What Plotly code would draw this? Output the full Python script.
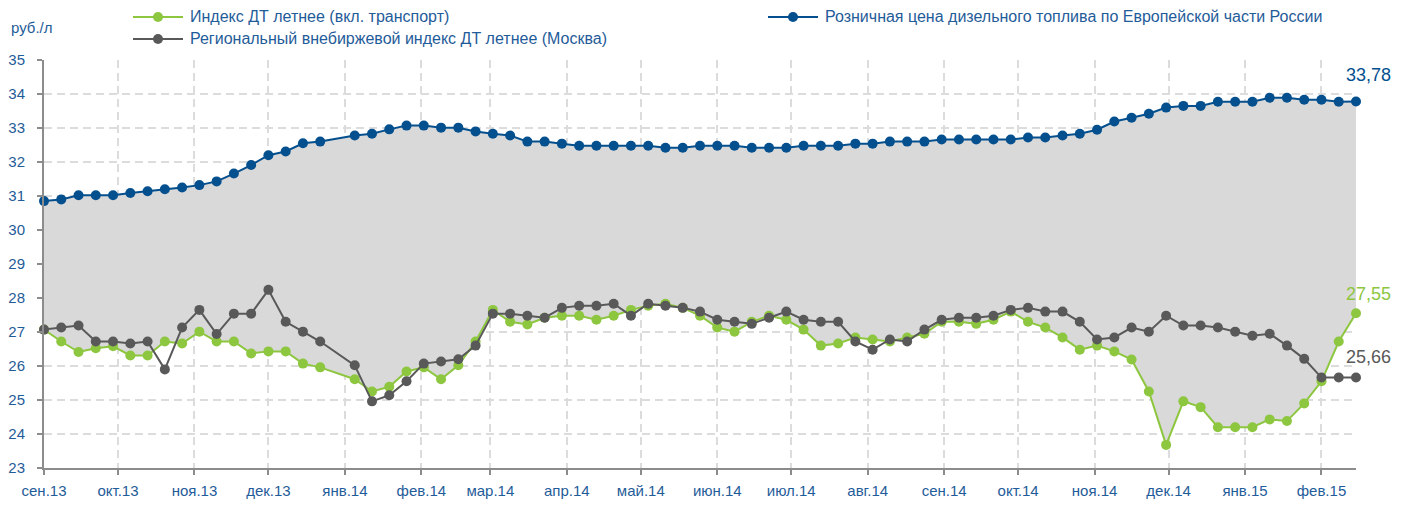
import plotly.graph_objects as go

dates = [
    "2013-09-01", "2013-09-08", "2013-09-15", "2013-09-22", "2013-09-29",
    "2013-10-06", "2013-10-13", "2013-10-20", "2013-10-27",
    "2013-11-03", "2013-11-10", "2013-11-17", "2013-11-24",
    "2013-12-01", "2013-12-08", "2013-12-15", "2013-12-22",
    "2014-01-05", "2014-01-12", "2014-01-19", "2014-01-26",
    "2014-02-02", "2014-02-09", "2014-02-16", "2014-02-23",
    "2014-03-02", "2014-03-09", "2014-03-16", "2014-03-23", "2014-03-30",
    "2014-04-06", "2014-04-13", "2014-04-20", "2014-04-27",
    "2014-05-04", "2014-05-11", "2014-05-18", "2014-05-25",
    "2014-06-01", "2014-06-08", "2014-06-15", "2014-06-22", "2014-06-29",
    "2014-07-06", "2014-07-13", "2014-07-20", "2014-07-27",
    "2014-08-03", "2014-08-10", "2014-08-17", "2014-08-24", "2014-08-31",
    "2014-09-07", "2014-09-14", "2014-09-21", "2014-09-28",
    "2014-10-05", "2014-10-12", "2014-10-19", "2014-10-26",
    "2014-11-02", "2014-11-09", "2014-11-16", "2014-11-23", "2014-11-30",
    "2014-12-07", "2014-12-14", "2014-12-21", "2014-12-28",
    "2015-01-04", "2015-01-11", "2015-01-18", "2015-01-25",
    "2015-02-01", "2015-02-08", "2015-02-15",
]

retail_price = [
    30.85, 30.90, 31.02, 31.02, 31.02, 31.09, 31.14, 31.20, 31.25, 31.32, 31.43, 31.66,
    31.91, 32.20, 32.31, 32.55, 32.60, 32.78, 32.83, 32.96, 33.07, 33.07, 33.01, 33.01,
    32.90, 32.83, 32.78, 32.60, 32.60, 32.54, 32.48, 32.48, 32.48, 32.48, 32.48, 32.42,
    32.42, 32.48, 32.48, 32.48, 32.42, 32.42, 32.42, 32.48, 32.48, 32.48, 32.54, 32.54,
    32.60, 32.60, 32.60,
    32.66, 32.66, 32.66, 32.66, 32.66, 32.72, 32.72, 32.78, 32.83, 32.95, 33.19, 33.30,
    33.42, 33.60, 33.65, 33.65, 33.77, 33.77, 33.77, 33.89, 33.89, 33.83, 33.83, 33.77, 33.78,
]

index_transport = [
    27.07, 26.72, 26.41, 26.52, 26.58, 26.31, 26.31, 26.72, 26.66, 27.01, 26.72, 26.72,
    26.37, 26.43, 26.43, 26.07, 25.96, 25.61, 25.25, 25.39, 25.84, 25.96, 25.61, 26.02,
    26.72, 27.65, 27.30, 27.22, 27.42, 27.48, 27.48, 27.36, 27.48, 27.65, 27.77, 27.83,
    27.71, 27.48, 27.13, 27.01, 27.30, 27.48, 27.36, 27.07, 26.60, 26.66, 26.84, 26.78,
    26.72, 26.84, 26.95,
    27.30, 27.30, 27.24, 27.36, 27.60, 27.30, 27.13, 26.84, 26.48, 26.60, 26.43, 26.19,
    25.25, 23.68, 24.96, 24.79, 24.20, 24.20, 24.20, 24.43, 24.38, 24.90, 25.55, 26.72, 27.55,
]

index_moscow = [
    27.07, 27.13, 27.19, 26.72, 26.72, 26.66, 26.72, 25.90, 27.13, 27.65, 26.94, 27.54,
    27.54, 28.24, 27.30, 27.01, 26.72, 26.02, 24.96, 25.14, 25.55, 26.07, 26.13, 26.20,
    26.60, 27.54, 27.54, 27.48, 27.42, 27.71, 27.77, 27.77, 27.83, 27.48, 27.83, 27.77,
    27.71, 27.60, 27.36, 27.30, 27.24, 27.42, 27.60, 27.36, 27.30, 27.30, 26.72, 26.48,
    26.78, 26.72, 27.07,
    27.36, 27.42, 27.42, 27.48, 27.65, 27.71, 27.60, 27.60, 27.30, 26.78, 26.84, 27.13,
    27.01, 27.48, 27.19, 27.19, 27.13, 27.01, 26.89, 26.95, 26.60, 26.21, 25.66, 25.66, 25.66,
]

month_ticks = [
    "2013-09-01", "2013-10-01", "2013-11-01", "2013-12-01", "2014-01-01", "2014-02-01",
    "2014-03-01", "2014-04-01", "2014-05-01", "2014-06-01", "2014-07-01", "2014-08-01",
    "2014-09-01", "2014-10-01", "2014-11-01", "2014-12-01", "2015-01-01", "2015-02-01",
]
month_labels = [
    "сен.13", "окт.13", "ноя.13", "дек.13", "янв.14", "фев.14",
    "мар.14", "апр.14", "май.14", "июн.14", "июл.14", "авг.14",
    "сен.14", "окт.14", "ноя.14", "дек.14", "янв.15", "фев.15",
]

name_transport = "Индекс ДТ летнее (вкл. транспорт)"
name_moscow = "Региональный внебиржевой индекс ДТ летнее (Москва)"
name_retail = "Розничная цена дизельного топлива по Европейской части России"

BLUE = "#044F8E"
GREEN = "#8DC63F"
GREY = "#595959"
TEXT = "#1F5C99"
FONT = "Liberation Sans, Arial, sans-serif"

# page offset of the figure (default body margin) and target plot box in page pixels
OFF = 8
W, H = 1407, 505
PLOT_L, PLOT_R, PLOT_T, PLOT_B = 44, 1356, 60, 468
ML, MT = PLOT_L - OFF, PLOT_T - OFF
MR, MB = W - (PLOT_R - OFF), H - (PLOT_B - OFF)
PW, PH = PLOT_R - PLOT_L, PLOT_B - PLOT_T


def px_x(p):
    return (p - PLOT_L) / PW


def px_y(p):
    return (PLOT_B - p) / PH


fig = go.Figure()

# lower edge of the shaded band (follows the transport index)
fig.add_trace(go.Scatter(x=dates, y=index_transport, mode="lines",
                         line=dict(width=0, color="rgba(0,0,0,0)"),
                         showlegend=False, hoverinfo="skip"))
fig.add_trace(go.Scatter(x=dates, y=retail_price, mode="lines+markers", name=name_retail,
                         fill="tonexty", fillcolor="#D9D9D9",
                         line=dict(color=BLUE, width=2), marker=dict(size=10, color=BLUE),
                         showlegend=False, cliponaxis=False))
fig.add_trace(go.Scatter(x=dates, y=index_transport, mode="lines+markers", name=name_transport,
                         line=dict(color=GREEN, width=2), marker=dict(size=10, color=GREEN),
                         showlegend=False, cliponaxis=False))
fig.add_trace(go.Scatter(x=dates, y=index_moscow, mode="lines+markers", name=name_moscow,
                         line=dict(color=GREY, width=2), marker=dict(size=10, color=GREY),
                         showlegend=False, cliponaxis=False))

# end-value labels
last = dates[-1]
for series, col, ys in [(retail_price, BLUE, 26), (index_transport, GREEN, 19), (index_moscow, GREY, 21)]:
    fig.add_annotation(x=last, y=series[-1], text=f"{series[-1]:.2f}".replace(".", ","),
                       showarrow=False, xshift=12, yshift=ys,
                       font=dict(size=18, color=col, family=FONT))

# legend (drawn manually to reproduce the two-column layout)
legend_items = [
    (name_transport, GREEN, 133, 17),
    (name_moscow, GREY, 133, 39),
    (name_retail, BLUE, 768, 17),
]
shapes = []
for name, col, lx, ly in legend_items:
    shapes.append(dict(type="line", xref="paper", yref="paper",
                       x0=px_x(lx), x1=px_x(lx + 50), y0=px_y(ly), y1=px_y(ly),
                       line=dict(color=col, width=2)))
    shapes.append(dict(type="circle", xref="paper", yref="paper",
                       xsizemode="pixel", ysizemode="pixel",
                       xanchor=px_x(lx + 25), yanchor=px_y(ly),
                       x0=-5, x1=5, y0=-5, y1=5,
                       fillcolor=col, line=dict(color=col, width=0)))
    fig.add_annotation(xref="paper", yref="paper", x=px_x(lx + 55), y=px_y(ly),
                       xanchor="left", yanchor="middle", text=name, showarrow=False,
                       font=dict(size=16, color=TEXT, family=FONT))

fig.add_annotation(xref="paper", yref="paper", x=px_x(9), y=px_y(27), xanchor="left", yanchor="middle",
                   text="руб./л", showarrow=False, font=dict(size=15, color=TEXT, family=FONT))

fig.update_layout(
    width=W, height=H,
    margin=dict(l=ML, r=MR, t=MT, b=MB, autoexpand=False),
    paper_bgcolor="white", plot_bgcolor="white",
    font=dict(family=FONT, size=15, color=TEXT),
    showlegend=False,
    shapes=shapes,
    xaxis=dict(type="date", range=["2013-09-01", "2015-02-15"], automargin=False,
               tickmode="array", tickvals=month_ticks, ticktext=month_labels,
               showgrid=True, gridcolor="#DCDCDC", griddash="8px,5px", gridwidth=1.5,
               showline=True, linecolor="#8C8C8C", linewidth=2,
               ticks="outside", ticklen=5, tickcolor="#8C8C8C", tickwidth=1.5,
               tickfont=dict(size=15, color=TEXT), zeroline=False, ticklabelstandoff=3),
    yaxis=dict(range=[23, 35], dtick=1, tick0=23, automargin=False,
               showgrid=True, gridcolor="#DCDCDC", griddash="8px,5px", gridwidth=1.5,
               showline=True, linecolor="#8C8C8C", linewidth=2,
               ticks="outside", ticklen=5, tickcolor="#8C8C8C", tickwidth=1.5,
               tickfont=dict(size=15, color=TEXT), zeroline=False, ticklabelstandoff=9),
)

fig.write_html("out.html")
